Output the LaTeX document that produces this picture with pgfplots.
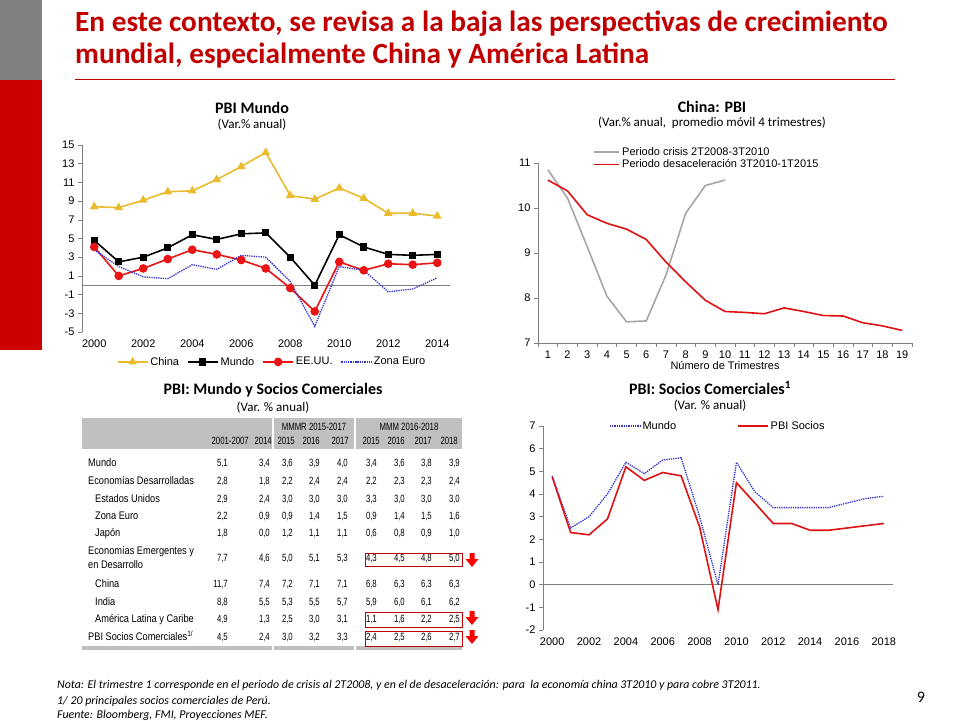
\documentclass[border=0pt]{standalone}
\usepackage{pgfplots}
\pgfplotsset{compat=1.18}
\usepackage{fontspec}
\setmainfont{Liberation Sans}
\newfontfamily\calfont{Carlito}
\newfontfamily\narrowfont[FakeStretch=0.84]{Liberation Sans}
\newfontfamily\valfont[FakeStretch=0.74]{Liberation Sans}

\definecolor{titlered}{RGB}{192,0,0}
\definecolor{barred}{RGB}{204,0,0}
\definecolor{bargray}{RGB}{128,128,128}
\definecolor{gold}{RGB}{234,187,44}
\definecolor{usred}{RGB}{235,20,20}
\definecolor{zblue}{RGB}{51,51,204}
\definecolor{cgray}{RGB}{166,166,166}
\definecolor{cred}{RGB}{222,18,18}
\definecolor{tgray}{RGB}{192,192,192}

\pgfplotsset{
  slide/.style={
    scale only axis, clip=false,
    tick align=outside, major tick length=4pt,
    tick style={gray, line width=0.6pt},
    axis line style={gray, line width=0.8pt},
    tick label style={font=\fontsize{11}{13}\selectfont},
    /pgf/number format/assume math mode=true,
    /pgf/number format/1000 sep={},
    legend style={draw=none, fill=none, font=\fontsize{11}{13}\selectfont},
    legend cell align=left,
  },
}

% one table row: set \ry first, then nine values
\newcommand\R[9]{%
  \node[anchor=mid east] at (228,\ry) {#1};
  \node[anchor=mid east] at (270,\ry) {#2};
  \node[anchor=mid east] at (293,\ry) {#3};
  \node[anchor=mid east] at (320,\ry) {#4};
  \node[anchor=mid east] at (348,\ry) {#5};
  \node[anchor=mid east] at (377,\ry) {#6};
  \node[anchor=mid east] at (405,\ry) {#7};
  \node[anchor=mid east] at (432,\ry) {#8};
  \node[anchor=mid east] at (460,\ry) {#9};}

\begin{document}
\begin{tikzpicture}
\useasboundingbox (0,0) rectangle (960pt,-720pt);
\fill[white] (0,0) rectangle (960pt,-720pt);

\begin{scope}[x=1pt,y=-1pt]
  % side bars
  \fill[bargray] (0,0) rectangle (42,80);
  \fill[barred] (0,80) rectangle (42,350);

  % slide title
  \node[anchor=base west, inner sep=0, text=titlered, font=\calfont\bfseries\fontsize{29.3}{33}\selectfont]
    at (75,31) {En este contexto, se revisa a la baja las perspectivas de crecimiento};
  \node[anchor=base west, inner sep=0, text=titlered, font=\calfont\bfseries\fontsize{29.3}{33}\selectfont]
    at (75,63) {mundial, especialmente China y América Latina};
  \draw[titlered, line width=0.8pt] (75,79) -- (895,79);

  % chart titles
  \node[font=\calfont\bfseries\fontsize{16}{18}\selectfont] at (252,108) {PBI Mundo};
  \node[font=\calfont\fontsize{13}{15}\selectfont] at (252,125) {(Var.\% anual)};
  \node[font=\calfont\bfseries\fontsize{16}{18}\selectfont] at (712,107) {China: PBI};
  \node[font=\calfont\fontsize{13}{15}\selectfont] at (712,123) {(Var.\% anual,\ \ promedio móvil 4 trimestres)};
  \node[font=\calfont\bfseries\fontsize{16}{18}\selectfont] at (710,388) {PBI: Socios Comerciales\textsuperscript{1}};
  \node[font=\calfont\fontsize{13}{15}\selectfont] at (710,406) {(Var. \% anual)};
  \node[font=\calfont\bfseries\fontsize{16}{18}\selectfont] at (273,390) {PBI: Mundo y Socios Comerciales};
  \node[font=\calfont\fontsize{13}{15}\selectfont] at (273,408) {(Var. \% anual)};

  % table
  \fill[tgray] (82,418) rectangle (272,449);
  \fill[tgray] (274,418) rectangle (354,449);
  \fill[tgray] (356,418) rectangle (462,449);
  \fill[tgray] (82,646) rectangle (272,650);
  \fill[tgray] (274,646) rectangle (354,650);
  \fill[tgray] (356,646) rectangle (462,650);
  \begin{scope}[font=\narrowfont\fontsize{11}{13}\selectfont, inner sep=0pt]
    \node[font=\valfont\fontsize{10.5}{12}\selectfont] at (314,427) {MMMR 2015-2017};
    \node[font=\valfont\fontsize{10.5}{12}\selectfont] at (409,427) {MMM 2016-2018};
    \node[anchor=mid west] at (88,464) {Mundo};
    \node[anchor=mid west] at (88,482) {Economías Desarrolladas};
    \node[anchor=mid west] at (95,500) {Estados Unidos};
    \node[anchor=mid west] at (95,517) {Zona Euro};
    \node[anchor=mid west] at (95,534) {Japón};
    \node[anchor=mid west] at (88,552) {Economías Emergentes y};
    \node[anchor=mid west] at (88,566) {en Desarrollo};
    \node[anchor=mid west] at (95,585) {China};
    \node[anchor=mid west] at (95,603) {India};
    \node[anchor=mid west] at (95,620) {América Latina y Caribe};
    \node[anchor=mid west] at (88,638) {PBI Socios Comerciales\textsuperscript{1/}};
  \end{scope}
  \begin{scope}[font=\valfont\fontsize{10.5}{12}\selectfont, inner sep=0pt]
    \def\ry{442}
    \node[anchor=mid east] at (249,\ry) {2001-2007};
    \node[anchor=mid east] at (272,\ry) {2014};
    \node[anchor=mid east] at (295,\ry) {2015};
    \node[anchor=mid east] at (320,\ry) {2016};
    \node[anchor=mid east] at (349,\ry) {2017};
    \node[anchor=mid east] at (380,\ry) {2015};
    \node[anchor=mid east] at (405,\ry) {2016};
    \node[anchor=mid east] at (432,\ry) {2017};
    \node[anchor=mid east] at (458,\ry) {2018};

    \def\ry{464}\R{5,1}{3,4}{3,6}{3,9}{4,0}{3,4}{3,6}{3,8}{3,9}
    \def\ry{482}\R{2,8}{1,8}{2,2}{2,4}{2,4}{2,2}{2,3}{2,3}{2,4}
    \def\ry{500}\R{2,9}{2,4}{3,0}{3,0}{3,0}{3,3}{3,0}{3,0}{3,0}
    \def\ry{517}\R{2,2}{0,9}{0,9}{1,4}{1,5}{0,9}{1,4}{1,5}{1,6}
    \def\ry{534}\R{1,8}{0,0}{1,2}{1,1}{1,1}{0,6}{0,8}{0,9}{1,0}
    \def\ry{559}\R{7,7}{4,6}{5,0}{5,1}{5,3}{4,3}{4,5}{4,8}{5,0}
    \def\ry{585}\R{11,7}{7,4}{7,2}{7,1}{7,1}{6,8}{6,3}{6,3}{6,3}
    \def\ry{603}\R{8,8}{5,5}{5,3}{5,5}{5,7}{5,9}{6,0}{6,1}{6,2}
    \def\ry{620}\R{4,9}{1,3}{2,5}{3,0}{3,1}{1,1}{1,6}{2,2}{2,5}
    \def\ry{638}\R{4,5}{2,4}{3,0}{3,2}{3,3}{2,4}{2,5}{2,6}{2,7}
  \end{scope}
  % highlighted cells and arrows
  \draw[titlered, line width=0.8pt] (365,553) rectangle (462,566);
  \draw[titlered, line width=0.8pt] (365,612) rectangle (462,627);
  \draw[titlered, line width=0.8pt] (365,631) rectangle (462,646);
  \foreach \t in {553,611,630}{
    \fill[red] (469.5,\t) -- (474.5,\t) -- (474.5,\t+6) -- (478.5,\t+6) -- (472,\t+14)
      -- (465.5,\t+6) -- (469.5,\t+6) -- cycle;}

  % footer
  \node[anchor=base west, inner sep=0, font=\calfont\itshape\fontsize{11.9}{13}\selectfont] at (57,688)
    {Nota: El trimestre 1 corresponde en el periodo de crisis al 2T2008, y en el de desaceleración: para\ \ la economía china 3T2010 y para cobre 3T2011.};
  \node[anchor=base west, inner sep=0, font=\calfont\itshape\fontsize{11.9}{13}\selectfont] at (57,704)
    {1/ 20 principales socios comerciales de Perú.};
  \node[anchor=base west, inner sep=0, font=\calfont\itshape\fontsize{11.9}{13}\selectfont] at (57,718)
    {Fuente: Bloomberg, FMI, Proyecciones MEF.};
  \node[font=\calfont\fontsize{16}{18}\selectfont] at (921,697) {9};
\end{scope}

% ---- PBI Mundo ----
\begin{axis}[slide,
  at={(82pt,-332pt)}, anchor=south west, width=367.5pt, height=187pt,
  xmin=1999.5, xmax=2014.5, ymin=-5, ymax=15,
  axis y line*=left, axis x line*=bottom,
  x axis line style={draw=none}, major x tick style={draw=none},
  xtick={2000,2002,...,2014}, ytick={-5,-3,...,15},
  legend columns=4,
  legend style={at={(0.517,-0.16)}, anchor=center,
    /tikz/every even column/.append style={column sep=6pt}},
  legend image code/.code={\draw[mark repeat=2,mark phase=2,#1]
    plot coordinates {(0pt,0pt)(15pt,0pt)(30pt,0pt)};},
]
\draw[gray, line width=0.8pt] (axis cs:1999.5,0) -- (axis cs:2014.5,0);
\addplot[gold, line width=1.6pt, mark=triangle*, mark size=3.5pt] coordinates {
  (2000,8.4) (2001,8.3) (2002,9.1) (2003,10.0) (2004,10.1) (2005,11.3) (2006,12.7)
  (2007,14.2) (2008,9.6) (2009,9.2) (2010,10.4) (2011,9.3) (2012,7.7) (2013,7.7) (2014,7.4)};
\addlegendentry{China}
\addplot[black, line width=1.6pt, mark=square*, mark size=2.8pt] coordinates {
  (2000,4.8) (2001,2.5) (2002,3.0) (2003,4.0) (2004,5.4) (2005,4.9) (2006,5.5)
  (2007,5.6) (2008,3.0) (2009,0.0) (2010,5.4) (2011,4.1) (2012,3.3) (2013,3.2) (2014,3.3)};
\addlegendentry{Mundo}
\addplot[usred, line width=1.6pt, mark=*, mark size=3.5pt] coordinates {
  (2000,4.1) (2001,1.0) (2002,1.8) (2003,2.8) (2004,3.8) (2005,3.3) (2006,2.7)
  (2007,1.8) (2008,-0.3) (2009,-2.8) (2010,2.5) (2011,1.6) (2012,2.3) (2013,2.2) (2014,2.4)};
\addlegendentry{EE.UU.}
\addplot[zblue, line width=1.3pt, densely dotted] coordinates {
  (2000,3.8) (2001,2.0) (2002,0.9) (2003,0.7) (2004,2.2) (2005,1.7) (2006,3.2)
  (2007,3.0) (2008,0.4) (2009,-4.4) (2010,2.0) (2011,1.6) (2012,-0.7) (2013,-0.4) (2014,0.8)};
\addlegendentry{Zona Euro}
\end{axis}

% ---- China: PBI ----
\begin{axis}[slide,
  at={(538pt,-343pt)}, anchor=south west, width=374pt, height=180pt,
  xmin=0.5, xmax=19.5, ymin=7, ymax=11,
  axis y line*=left, axis x line*=bottom,
  xtick={1,...,19}, minor xtick={0.5,1.5,...,19.5},
  major x tick style={draw=none}, minor tick length=4pt,
  ytick={7,8,9,10,11},
  xlabel={Número de Trimestres},
  xlabel style={font=\fontsize{11}{13}\selectfont, yshift=4pt},
  legend style={at={(0.14,1.11)}, anchor=north west, row sep=-1pt},
  legend image code/.code={\draw[#1] (0pt,0pt) -- (25pt,0pt);},
]
\addplot[cgray, line width=1.6pt] coordinates {
  (1,10.85) (2,10.22) (3,9.14) (4,8.04) (5,7.47) (6,7.49) (7,8.51) (8,9.88) (9,10.5) (10,10.62)};
\addlegendentry{Periodo crisis 2T2008-3T2010}
\addplot[cred, line width=1.6pt] coordinates {
  (1,10.62) (2,10.38) (3,9.85) (4,9.66) (5,9.53) (6,9.30) (7,8.80) (8,8.36) (9,7.95) (10,7.70)
  (11,7.68) (12,7.65) (13,7.78) (14,7.70) (15,7.61) (16,7.60) (17,7.45) (18,7.38) (19,7.28)};
\addlegendentry{Periodo desaceleración 3T2010-1T2015}
\end{axis}

% ---- PBI: Socios Comerciales ----
\begin{axis}[slide,
  at={(543pt,-630pt)}, anchor=south west, width=350pt, height=204pt,
  xmin=1999.5, xmax=2018.5, ymin=-2, ymax=7,
  axis y line*=left, axis x line*=bottom,
  x axis line style={draw=none}, major x tick style={draw=none},
  xtick={2000,2002,...,2018}, ytick={-2,-1,...,7},
  legend columns=2,
  legend style={at={(0.18,1)}, anchor=west,
    /tikz/every even column/.append style={column sep=59pt}},
  legend image code/.code={\draw[#1] (0pt,0pt) -- (30pt,0pt);},
]
\draw[gray, line width=0.8pt] (axis cs:1999.5,0) -- (axis cs:2018.5,0);
\addplot[zblue, line width=1.3pt, densely dotted] coordinates {
  (2000,4.8) (2001,2.5) (2002,3.0) (2003,4.0) (2004,5.4) (2005,4.9) (2006,5.5) (2007,5.6)
  (2008,3.0) (2009,0.0) (2010,5.4) (2011,4.1) (2012,3.4) (2013,3.4) (2014,3.4) (2015,3.4)
  (2016,3.6) (2017,3.8) (2018,3.9)};
\addlegendentry{Mundo}
\addplot[cred, line width=1.6pt] coordinates {
  (2000,4.75) (2001,2.3) (2002,2.2) (2003,2.9) (2004,5.2) (2005,4.6) (2006,4.95) (2007,4.8)
  (2008,2.55) (2009,-1.1) (2010,4.5) (2011,3.6) (2012,2.7) (2013,2.7) (2014,2.4) (2015,2.4)
  (2016,2.5) (2017,2.6) (2018,2.7)};
\addlegendentry{PBI Socios}
\end{axis}
\end{tikzpicture}
\end{document}
